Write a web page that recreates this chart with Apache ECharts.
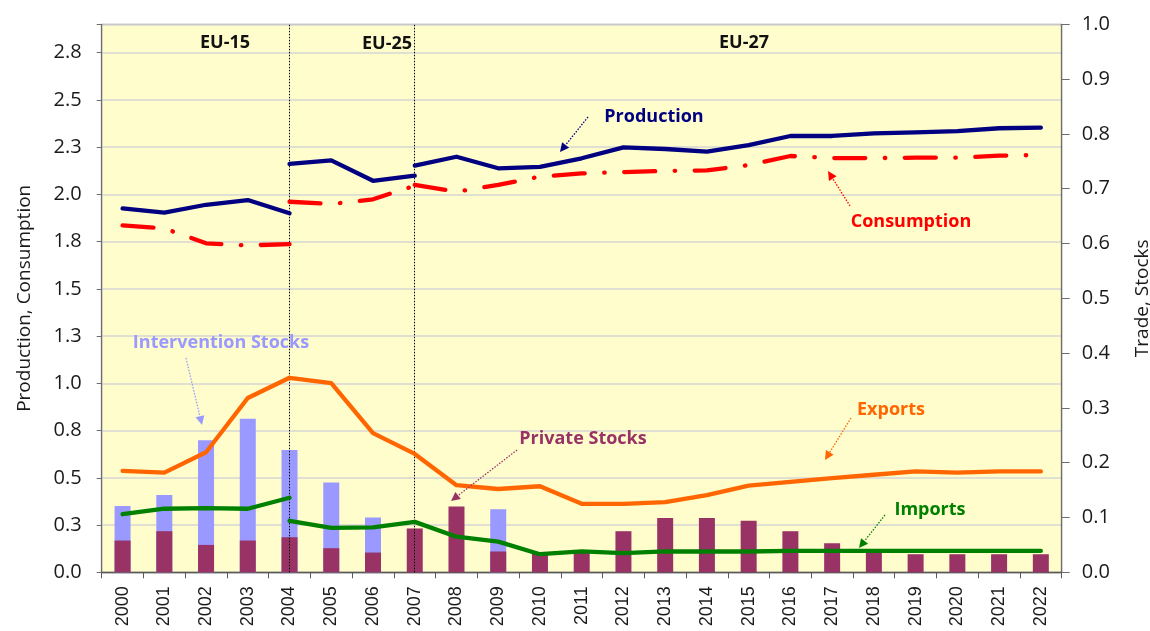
<!DOCTYPE html>
<html>
<head>
<meta charset="utf-8">
<script src="https://cdn.jsdelivr.net/npm/echarts@6/dist/echarts.min.js"></script>
<style>html,body{margin:0;padding:0;background:#fff}#c{width:1150px;height:631px}</style>
</head>
<body>
<div id="c"></div>
<script>
const years = ['2000','2001','2002','2003','2004','2005','2006','2007','2008','2009','2010','2011','2012','2013','2014','2015','2016','2017','2018','2019','2020','2021','2022'];

// Production (left axis), three segments: EU-15 (2000-2004), EU-25 (2004-2007), EU-27 (2007-2022)
const prodEU15 = [1.926, 1.903, 1.945, 1.970, 1.900];
const prodEU25 = [2.161, 2.180, 2.072, 2.099];
const prodEU27 = [2.152, 2.199, 2.138, 2.146, 2.191, 2.249, 2.240, 2.226, 2.261, 2.309, 2.309, 2.323, 2.328, 2.335, 2.350, 2.353];

// Consumption (left axis)
const consEU15 = [1.836, 1.820, 1.741, 1.730, 1.737];
const consEU25 = [1.961, 1.949, 1.974, 2.046];
const consEU27 = [2.050, 2.014, 2.050, 2.094, 2.111, 2.118, 2.124, 2.127, 2.155, 2.203, 2.192, 2.192, 2.194, 2.194, 2.205, 2.208];

// Trade (right axis)
const exportsAll = [0.185, 0.182, 0.219, 0.318, 0.355, 0.345, 0.254, 0.216, 0.159, 0.152, 0.157, 0.125, 0.125, 0.128, 0.141, 0.158, 0.165, 0.172, 0.178, 0.184, 0.182, 0.184, 0.184];
const importsEU15 = [0.106, 0.116, 0.117, 0.116, 0.136];
const importsEU25_27 = [0.094, 0.081, 0.082, 0.092, 0.065, 0.056, 0.033, 0.038, 0.035, 0.038, 0.038, 0.038, 0.039, 0.039, 0.039, 0.039, 0.039, 0.039, 0.039];

// Stocks (right axis)
const privateStocks = [0.058, 0.075, 0.050, 0.058, 0.064, 0.044, 0.036, 0.080, 0.120, 0.038, 0.036, 0.038, 0.075, 0.099, 0.099, 0.094, 0.075, 0.053, 0.042, 0.033, 0.033, 0.033, 0.033];
const interventionStocks = [0.121, 0.141, 0.241, 0.280, 0.223, 0.164, 0.100, null, null, 0.115, null, null, null, null, null, null, null, null, null, null, null, null, null];

const eraLabels = ['EU-15', 'EU-25', 'EU-27'];
const eraBreaks = ['2004', '2007'];

function pad(arr, start) {
  const out = years.map(() => null);
  arr.forEach((v, i) => { out[start + i] = v; });
  return out;
}

const G = {left: 101.7, top: 24.3, right: 88.3, bottom: 58.7};
const FONT = '"Open Sans", "Noto Sans", sans-serif';

function arrow(x1, y1, x2, y2, color) {
  const a = Math.atan2(y2 - y1, x2 - x1);
  const L = 9, w = 4.5;
  const bx = x2 - L * Math.cos(a), by = y2 - L * Math.sin(a);
  const px = -Math.sin(a) * w, py = Math.cos(a) * w;
  return [
    {type: 'line', z: 100, shape: {x1: x1, y1: y1, x2: bx, y2: by}, style: {stroke: color, lineWidth: 1.3, lineDash: [1.5, 1.5]}},
    {type: 'polygon', z: 100, shape: {points: [[x2, y2], [bx + px, by + py], [bx - px, by - py]]}, style: {fill: color}}
  ];
}
function label(text, x, y, color, size) {
  return {type: 'text', z: 100, x: x, y: y, style: {text: text, fill: color, font: 'bold ' + (size || 18) + 'px ' + FONT, align: 'center', verticalAlign: 'middle', textAlign: 'center', textVerticalAlign: 'middle'}};
}

const lineBase = (name, data, color, yIdx, extra) => Object.assign({
  name: name, type: 'line', data: data, yAxisIndex: yIdx, symbol: 'none', connectNulls: false,
  lineStyle: {color: color, width: 4.3, cap: 'round', join: 'round'}, itemStyle: {color: color}, z: 5, animation: false
}, extra || {});

const consStyle = {color: '#FF0000', width: 4.3, type: [31, 19.5, 0.5, 19.5], cap: 'round', join: 'round'};

const chart = echarts.init(document.getElementById('c'), null, {renderer: 'canvas'});
const option = {
  animation: false,
  backgroundColor: '#ffffff',
  grid: {left: G.left, top: G.top, right: G.right, bottom: G.bottom, containLabel: false, outerBoundsMode: 'none',
    show: true, backgroundColor: '#FFFDCC', borderColor: '#8c8c8c', borderWidth: 1},
  xAxis: {
    type: 'category', data: years, boundaryGap: true,
    axisLine: {lineStyle: {color: '#5a5a5a', width: 1.3}},
    axisTick: {show: true, interval: 0, length: 6, lineStyle: {color: '#5a5a5a'}},
    axisLabel: {rotate: 90, interval: 0, margin: 14, color: '#1a1a1a', fontSize: 18, fontFamily: '"Liberation Sans", Arial, sans-serif'},
    splitLine: {show: false}
  },
  yAxis: [
    {
      type: 'value', min: 0, max: 2.9, interval: 0.25, position: 'left',
      name: 'Production, Consumption', nameLocation: 'middle', nameRotate: 90, nameGap: 68,
      nameTextStyle: {color: '#1a1a1a', fontSize: 19, fontFamily: FONT},
      axisLine: {show: true, lineStyle: {color: '#6e6e6e', width: 1.3}},
      axisTick: {show: true, length: 5, lineStyle: {color: '#6e6e6e'}},
      axisLabel: {color: '#1a1a1a', fontSize: 20, fontFamily: FONT, margin: 20,
        formatter: v => v > 2.8 ? '' : (Math.round(v * 10) / 10).toFixed(1)},
      splitLine: {show: true, lineStyle: {color: '#d4d4d4', width: 1.5}}
    },
    {
      type: 'value', min: 0, max: 1, interval: 0.1, position: 'right',
      name: 'Trade, Stocks', nameLocation: 'middle', nameRotate: 90, nameGap: 71,
      nameTextStyle: {color: '#1a1a1a', fontSize: 19, fontFamily: FONT},
      axisLine: {show: true, lineStyle: {color: '#6e6e6e', width: 1.3}},
      axisTick: {show: true, length: 8, lineStyle: {color: '#6e6e6e'}},
      axisLabel: {color: '#1a1a1a', fontSize: 20, fontFamily: FONT, margin: 20, formatter: v => v.toFixed(1)},
      splitLine: {show: false}
    }
  ],
  series: [
    {name: 'Intervention Stocks', type: 'bar', yAxisIndex: 1, data: interventionStocks, barWidth: 16, barGap: '-100%', itemStyle: {color: '#9999FF'}, z: 2},
    {name: 'Private Stocks', type: 'bar', yAxisIndex: 1, data: privateStocks, barWidth: 16, barGap: '-100%', itemStyle: {color: '#993366'}, z: 3},
    {
      name: 'breaks', type: 'line', data: [], yAxisIndex: 0, z: 4,
      markLine: {silent: true, symbol: ['none', 'none'], label: {show: false},
        lineStyle: {color: '#000', type: [1.5, 1.5], width: 1},
        data: eraBreaks.map(b => ({xAxis: b}))}
    },
    lineBase('Exports', exportsAll, '#FF6600', 1),
    lineBase('Imports EU-15', pad(importsEU15, 0), '#008000', 1),
    lineBase('Imports', pad(importsEU25_27, 4), '#008000', 1),
    lineBase('Production EU-15', pad(prodEU15, 0), '#000080', 0),
    lineBase('Production EU-25', pad(prodEU25, 4), '#000080', 0),
    lineBase('Production EU-27', pad(prodEU27, 7), '#000080', 0),
    lineBase('Consumption EU-15', pad(consEU15, 0), '#FF0000', 0, {lineStyle: consStyle}),
    lineBase('Consumption EU-25', pad(consEU25, 4), '#FF0000', 0, {lineStyle: consStyle}),
    lineBase('Consumption EU-27', pad(consEU27, 7), '#FF0000', 0, {lineStyle: consStyle})
  ],
  graphic: [].concat(
    [label(eraLabels[0], 225, 43, '#111'), label(eraLabels[1], 387, 44, '#111'), label(eraLabels[2], 744, 43, '#111')],
    [label('Production', 654, 117, '#000080')], arrow(588, 117, 560, 152, '#000080'),
    [label('Consumption', 911, 222, '#FF0000')], arrow(850, 206, 828, 171, '#FF0000'),
    [label('Exports', 891, 410, '#FF6600')], arrow(851, 418, 825, 460, '#FF6600'),
    [label('Imports', 930, 510, '#008000')], arrow(885, 515, 859, 548, '#008000'),
    [label('Private Stocks', 583, 439, '#993366')], arrow(517, 450, 451, 501, '#993366'),
    [label('Intervention Stocks', 221, 343, '#9999FF')], arrow(186, 358, 202, 425, '#9999FF')
  )
};
chart.setOption(option);
</script>
</body>
</html>
